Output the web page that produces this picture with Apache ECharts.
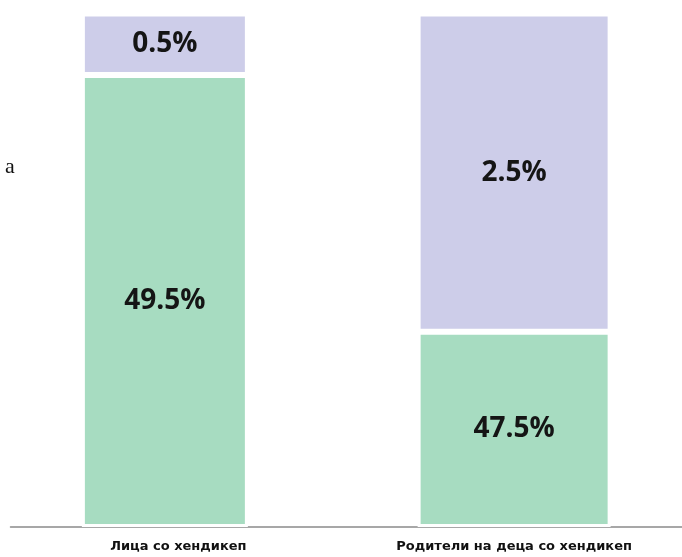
<!DOCTYPE html>
<html>
<head>
<meta charset="utf-8">
<script src="https://cdn.jsdelivr.net/npm/echarts@6/dist/echarts.min.js"></script>
<style>
  html, body { margin: 0; padding: 0; background: #fff; }
  #chart { width: 682px; height: 557px; }
</style>
</head>
<body>
<div id="chart"></div>
<script>
// категории
const categories = ['Лица со хендикеп', 'Родители на деца со хендикеп']
// висини на сегментите (одчитани од сликата, во % од столбот)
const greenValues = [88, 38]
const purpleValues = [12, 62]
// натписи на сегментите
const greenLabels = ['49.5%', '47.5%']
const purpleLabels = ['0.5%', '2.5%']

const GREEN = '#a7dcc1'
const PURPLE = '#cdcde9'

// секој столб во свој stack за да има своја ширина
function onlyAt (arr, i) {
  return arr.map((v, j) => (j === i ? v : null))
}

function seg (arr, labels, i, color, stack, width) {
  return {
    type: 'bar',
    stack: stack,
    barWidth: width,
    barGap: '-100%',
    data: onlyAt(arr, i),
    itemStyle: { color: color, borderColor: '#fff', borderWidth: 3 },
    label: {
      show: true,
      position: 'inside',
      formatter: p => labels[p.dataIndex],
      fontFamily: 'Open Sans',
      fontWeight: 'bold',
      fontSize: 28,
      color: '#151515'
    },
    silent: true
  }
}

const myChart = echarts.init(document.getElementById('chart'))
const option = {
  animation: false,
  backgroundColor: '#fff',
  title: {
    text: 'a',
    left: 0,
    top: 151,
    textStyle: { fontFamily: 'Liberation Serif', fontWeight: 'normal', fontSize: 22, color: '#111' }
  },
  grid: { left: 10.5, right: -2.5, top: 13.5, bottom: 30 },
  xAxis: {
    type: 'category',
    data: categories,
    axisLine: { show: true, lineStyle: { color: '#8a8a8a', width: 1.5 } },
    axisTick: { show: false },
    axisLabel: {
      margin: 13,
      fontFamily: 'DejaVu Sans',
      fontWeight: 'bold',
      fontSize: 13,
      color: '#111'
    }
  },
  yAxis: { type: 'value', min: 0, max: 100, show: false },
  series: [
    seg(greenValues, greenLabels, 0, GREEN, 'a', 166),
    seg(purpleValues, purpleLabels, 0, PURPLE, 'a', 166),
    seg(greenValues, greenLabels, 1, GREEN, 'b', 193),
    seg(purpleValues, purpleLabels, 1, PURPLE, 'b', 193)
  ]
}
myChart.setOption(option)
</script>
</body>
</html>
